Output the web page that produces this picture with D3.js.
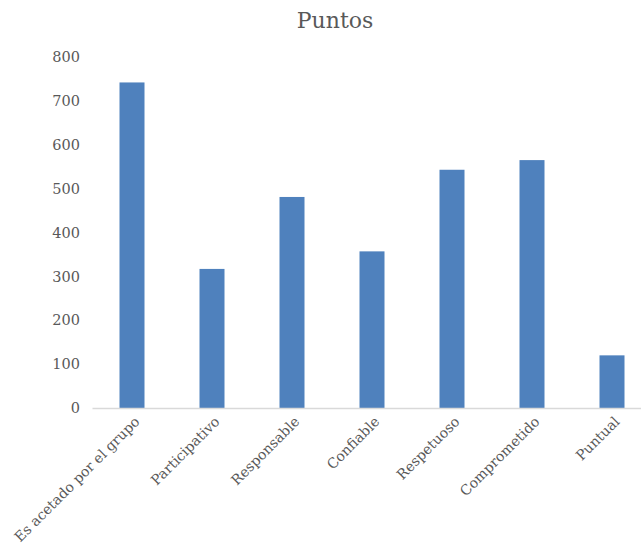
<!DOCTYPE html>
<html>
<head>
<meta charset="utf-8">
<script src="https://cdn.jsdelivr.net/npm/d3@7"></script>
<style>
	body { margin: 0; background: #fff; }
	text { font-family: "DejaVu Serif", serif; fill: #595959; }
</style>
</head>
<body>
<svg id="chart" width="641" height="546"></svg>
<script>
var categories = ["Es acetado por el grupo", "Participativo", "Responsable", "Confiable", "Respetuoso", "Comprometido", "Puntual"];
var values = [742, 317, 481, 357, 543, 565, 120];
var yTicks = [0, 100, 200, 300, 400, 500, 600, 700, 800];
var title = "Puntos";

var svg = d3.select("#chart");
var margin = {top: 57, left: 92, right: -11, bottom: 138};
var width = 641 - margin.left - margin.right,
	height = 546 - margin.top - margin.bottom;

var g = svg.append("g")
	.attr("transform", "translate(" + margin.left + "," + margin.top + ")");

var x = d3.scaleBand().domain(categories).range([0, width]).paddingInner(0.6875).paddingOuter(0.34375);
var y = d3.scaleLinear().domain([0, 800]).range([height, 0]);

// title
svg.append("text")
	.attr("x", 335)
	.attr("y", 28)
	.attr("text-anchor", "middle")
	.style("font-size", "22px")
	.text(title);

// y axis labels only
var yAxis = g.append("g").call(d3.axisLeft(y).tickValues(yTicks).tickSize(0).tickPadding(12));
yAxis.select(".domain").remove();
yAxis.selectAll("text")
	.style("font-size", "14.5px")
	.style("font-family", "DejaVu Serif, serif")
	.attr("fill", "#595959");

// bars
g.selectAll("rect.bar")
	.data(values)
	.enter().append("rect")
	.attr("class", "bar")
	.attr("x", function(d, i) { return x(categories[i]); })
	.attr("y", function(d) { return y(d); })
	.attr("width", x.bandwidth())
	.attr("height", function(d) { return height - y(d); })
	.attr("fill", "#4f81bd");

// x axis, labels turned 45 degrees
var xAxis = g.append("g")
	.attr("transform", "translate(0," + height + ")")
	.call(d3.axisBottom(x).tickSize(0).tickPadding(0));
xAxis.select(".domain").attr("stroke", "#d9d9d9").attr("stroke-width", 1.5);
xAxis.selectAll("text")
	.style("font-size", "14px")
	.style("font-family", "DejaVu Serif, serif")
	.attr("fill", "#595959")
	.attr("text-anchor", "end")
	.attr("dy", "0.35em")
	.attr("transform", "translate(5,11) rotate(-45)");
</script>
</body>
</html>
